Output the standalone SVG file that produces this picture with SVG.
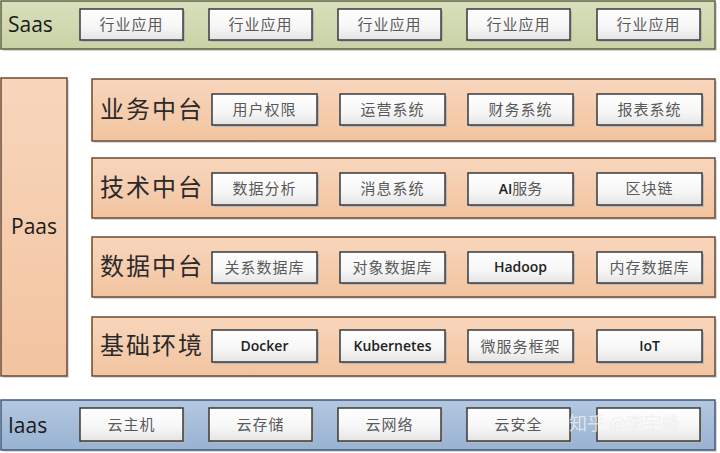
<svg xmlns="http://www.w3.org/2000/svg" width="720" height="453" viewBox="0 0 720 453">
<defs>
<linearGradient id="gBox" x1="0" y1="0" x2="0" y2="1">
<stop offset="0" stop-color="#ffffff"/><stop offset="0.6" stop-color="#f6f6f6"/><stop offset="1" stop-color="#e4e4e4"/>
</linearGradient>
<linearGradient id="gSaas" x1="0" y1="0" x2="0" y2="1">
<stop offset="0" stop-color="#d8e0bc"/><stop offset="1" stop-color="#c8d2a4"/>
</linearGradient>
<linearGradient id="gPaas" x1="0" y1="0" x2="0" y2="1">
<stop offset="0" stop-color="#f8d6bc"/><stop offset="1" stop-color="#f2c4a0"/>
</linearGradient>
<linearGradient id="gIaas" x1="0" y1="0" x2="0" y2="1">
<stop offset="0" stop-color="#b4c8e0"/><stop offset="1" stop-color="#98b2d2"/>
</linearGradient>
</defs>
<style>
.sh{fill:#d9d9d9}
.saas{fill:url(#gSaas);stroke:#5b6140;stroke-width:1.5}
.paas{fill:url(#gPaas);stroke:#6b4a34;stroke-width:1.5}
.iaas{fill:url(#gIaas);stroke:#405a7c;stroke-width:1.5}
.box{fill:url(#gBox);stroke:#3a3a3a;stroke-width:1.5}
.bsh{fill:#b8b8b8}
.layer{font-family:"Open Sans","Liberation Sans",sans-serif;font-size:21px;fill:#1a1a1a}
.row{font-family:"Noto Sans CJK SC",sans-serif;font-size:24px;fill:#2a2a2a;letter-spacing:2px}
.cn{font-family:"Noto Sans CJK SC",sans-serif;font-size:15px;fill:#5a5a5a;text-anchor:middle;letter-spacing:1px}
.en{font-family:"Open Sans","DejaVu Sans",sans-serif;font-size:14px;fill:#222;text-anchor:middle;font-weight:600}
.wm{font-family:"Noto Sans CJK SC",sans-serif;font-size:18px;fill:#ffffff;fill-opacity:0.8}
</style>

<g id="saas">
<rect class="sh" x="3" y="3" width="714" height="48"/>
<rect class="saas" x="1" y="1" width="714" height="48"/>
<text class="layer" x="8" y="32">Saas</text>
</g>
<g id="saas-apps">
<g id="saas1"><rect class="bsh" x="82" y="11" width="103" height="31"/><rect class="box" x="80" y="9" width="103" height="31"/><text class="cn" x="131.5" y="30">行业应用</text></g>
<g id="saas2"><rect class="bsh" x="211" y="11" width="103" height="31"/><rect class="box" x="209" y="9" width="103" height="31"/><text class="cn" x="260.5" y="30">行业应用</text></g>
<g id="saas3"><rect class="bsh" x="340" y="11" width="103" height="31"/><rect class="box" x="338" y="9" width="103" height="31"/><text class="cn" x="389.5" y="30">行业应用</text></g>
<g id="saas4"><rect class="bsh" x="469" y="11" width="103" height="31"/><rect class="box" x="467" y="9" width="103" height="31"/><text class="cn" x="518.5" y="30">行业应用</text></g>
<g id="saas5"><rect class="bsh" x="599" y="11" width="103" height="31"/><rect class="box" x="597" y="9" width="103" height="31"/><text class="cn" x="648.5" y="30">行业应用</text></g>
</g>

<g id="paas">
<rect class="sh" x="3" y="80" width="66" height="298"/>
<rect class="paas" x="1" y="78" width="66" height="298"/>
<text class="layer" x="34" y="234" text-anchor="middle">Paas</text>
</g>

<g id="biz">
<rect class="sh" x="94" y="81" width="623" height="62"/>
<rect class="paas" x="92" y="79" width="623" height="62"/>
<text class="row" x="100" y="118">业务中台</text>
<g id="biz1"><rect class="bsh" x="214" y="96" width="105" height="31"/><rect class="box" x="212" y="94" width="105" height="31"/><text class="cn" x="264.5" y="115">用户权限</text></g>
<g id="biz2"><rect class="bsh" x="342" y="96" width="105" height="31"/><rect class="box" x="340" y="94" width="105" height="31"/><text class="cn" x="392.5" y="115">运营系统</text></g>
<g id="biz3"><rect class="bsh" x="470" y="96" width="105" height="31"/><rect class="box" x="468" y="94" width="105" height="31"/><text class="cn" x="520.5" y="115">财务系统</text></g>
<g id="biz4"><rect class="bsh" x="599" y="96" width="105" height="31"/><rect class="box" x="597" y="94" width="105" height="31"/><text class="cn" x="649.5" y="115">报表系统</text></g>
</g>

<g id="tech">
<rect class="sh" x="94" y="160" width="623" height="60"/>
<rect class="paas" x="92" y="158" width="623" height="60"/>
<text class="row" x="100" y="196">技术中台</text>
<g id="tech1"><rect class="bsh" x="214" y="175" width="105" height="32"/><rect class="box" x="212" y="173" width="105" height="32"/><text class="cn" x="264.5" y="194">数据分析</text></g>
<g id="tech2"><rect class="bsh" x="342" y="175" width="105" height="32"/><rect class="box" x="340" y="173" width="105" height="32"/><text class="cn" x="392.5" y="194">消息系统</text></g>
<g id="tech3"><rect class="bsh" x="470" y="175" width="105" height="32"/><rect class="box" x="468" y="173" width="105" height="32"/><text x="520.5" y="194" text-anchor="middle"><tspan style="font-family:'Open Sans',sans-serif;font-size:14px;font-weight:600;fill:#222">AI</tspan><tspan style="font-family:'Noto Sans CJK SC',sans-serif;font-size:15px;fill:#5a5a5a">服务</tspan></text></g>
<g id="tech4"><rect class="bsh" x="599" y="175" width="105" height="32"/><rect class="box" x="597" y="173" width="105" height="32"/><text class="cn" x="649.5" y="194">区块链</text></g>
</g>

<g id="data">
<rect class="sh" x="94" y="239" width="623" height="60"/>
<rect class="paas" x="92" y="237" width="623" height="60"/>
<text class="row" x="100" y="275">数据中台</text>
<g id="data1"><rect class="bsh" x="214" y="254" width="105" height="31"/><rect class="box" x="212" y="252" width="105" height="31"/><text class="cn" x="264.5" y="273">关系数据库</text></g>
<g id="data2"><rect class="bsh" x="342" y="254" width="105" height="31"/><rect class="box" x="340" y="252" width="105" height="31"/><text class="cn" x="392.5" y="273">对象数据库</text></g>
<g id="data3"><rect class="bsh" x="470" y="254" width="105" height="31"/><rect class="box" x="468" y="252" width="105" height="31"/><text class="en" x="520.5" y="272">Hadoop</text></g>
<g id="data4"><rect class="bsh" x="599" y="254" width="105" height="31"/><rect class="box" x="597" y="252" width="105" height="31"/><text class="cn" x="649.5" y="273">内存数据库</text></g>
</g>

<g id="infra">
<rect class="sh" x="94" y="319" width="623" height="59"/>
<rect class="paas" x="92" y="317" width="623" height="59"/>
<text class="row" x="100" y="354">基础环境</text>
<g id="infra1"><rect class="bsh" x="214" y="332" width="105" height="32"/><rect class="box" x="212" y="330" width="105" height="32"/><text class="en" x="264.5" y="351">Docker</text></g>
<g id="infra2"><rect class="bsh" x="342" y="332" width="105" height="32"/><rect class="box" x="340" y="330" width="105" height="32"/><text class="en" x="392.5" y="351">Kubernetes</text></g>
<g id="infra3"><rect class="bsh" x="470" y="332" width="105" height="32"/><rect class="box" x="468" y="330" width="105" height="32"/><text class="cn" x="520.5" y="352">微服务框架</text></g>
<g id="infra4"><rect class="bsh" x="599" y="332" width="105" height="32"/><rect class="box" x="597" y="330" width="105" height="32"/><text class="en" x="649.5" y="351">IoT</text></g>
</g>

<g id="iaas">
<rect class="sh" x="3" y="402" width="714" height="50"/>
<rect class="iaas" x="1" y="400" width="714" height="50"/>
<text class="layer" x="8" y="433">Iaas</text>
</g>
<g id="iaas-items">
<g id="iaas1"><rect class="bsh" x="82" y="410" width="103" height="33"/><rect class="box" x="80" y="408" width="103" height="33"/><text class="cn" x="131.5" y="430">云主机</text></g>
<g id="iaas2"><rect class="bsh" x="211" y="410" width="103" height="33"/><rect class="box" x="209" y="408" width="103" height="33"/><text class="cn" x="260.5" y="430">云存储</text></g>
<g id="iaas3"><rect class="bsh" x="340" y="410" width="103" height="33"/><rect class="box" x="338" y="408" width="103" height="33"/><text class="cn" x="389.5" y="430">云网络</text></g>
<g id="iaas4"><rect class="bsh" x="469" y="410" width="103" height="33"/><rect class="box" x="467" y="408" width="103" height="33"/><text class="cn" x="518.5" y="430">云安全</text></g>
<g id="iaas5"><rect class="bsh" x="599" y="410" width="103" height="33"/><rect class="box" x="597" y="408" width="103" height="33"/></g>
</g>
<text class="wm" x="569" y="430" style="fill:#eeeeee">知乎 @李宇峰</text>
</svg>
